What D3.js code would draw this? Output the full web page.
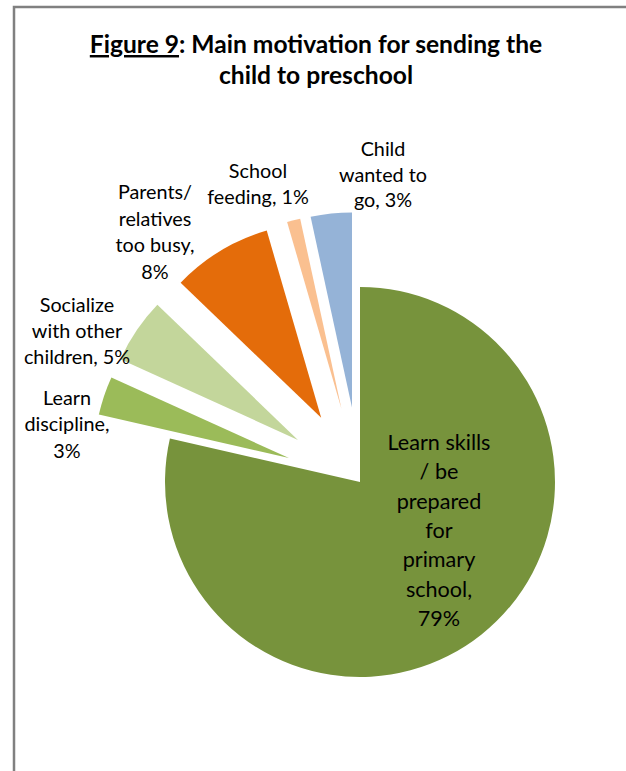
<!DOCTYPE html>
<html><head><meta charset="utf-8">
<script src="https://cdn.jsdelivr.net/npm/d3@7/dist/d3.min.js"></script>
<style>html,body{margin:0;padding:0;background:#fff;}svg{display:block;}</style>
</head><body>
<script>
// ---- data ----
const categories = ["Learn skills / be prepared for primary school","Learn discipline","Socialize with other children","Parents/ relatives too busy","School feeding","Child wanted to go"];
const values = [78.5, 3.2, 5.4, 8.3, 1.1, 3.4];
const labelLines = [
  ["Learn skills","/ be","prepared","for","primary","school,"],
  ["Learn","discipline,"],
  ["Socialize","with other","children,"],
  ["Parents/","relatives","too busy,"],
  ["School","feeding,"],
  ["Child","wanted to","go,"]
];
const colors = ["#77933C","#9BBB59","#C3D69B","#E46C0A","#FAC090","#95B3D7"];
const titleLines = ["Figure 9: Main motivation for sending the","child to preschool"];

const W=626,H=771;
const svg=d3.select("body").append("svg").attr("width",W).attr("height",H);
const FONT="Lato, 'Open Sans', sans-serif";

// frame
svg.append("path").attr("d",`M14,${H} V7 H${W}`).attr("fill","none").attr("stroke","#808080").attr("stroke-width",2.5);

// title
const tg=svg.append("g").attr("font-family",FONT).attr("font-weight","bold").attr("font-size",24.6).attr("fill","#000").attr("text-anchor","middle");
const t1=tg.append("text").attr("x",316).attr("y",53);
t1.append("tspan").attr("text-decoration","underline").text("Figure 9");
t1.append("tspan").text(titleLines[0].slice(8));
tg.append("text").attr("x",316).attr("y",84).text(titleLines[1]);

// pie
const cx=360, cy=482, R=195, explode=75;
const pie=d3.pie().sort(null).value(d=>d)(values);
const arc=d3.arc().innerRadius(0).outerRadius(R);
const g=svg.append("g").attr("transform",`translate(${cx},${cy})`);
g.selectAll("path").data(pie).join("path")
  .attr("d",arc).attr("fill",(d,i)=>colors[i])
  .attr("transform",(d,i)=>{
     if(i===0) return null;
     const a=(d.startAngle+d.endAngle)/2;
     return `translate(${explode*Math.sin(a)},${-explode*Math.cos(a)})`;
  });

// labels: [x, first baseline, line height, font size]
const labelPos=[[439,450,29.3,21.6],[67,405,26.3,19.8],[77,312,25.8,19.8],[155,199,26.7,19.8],[258,178,26,19.8],[383,156,25.5,19.8]];
const lg=svg.append("g").attr("font-family",FONT).attr("fill","#000").attr("text-anchor","middle");
pie.forEach((d,i)=>{
  const lines=labelLines[i].slice();
  const pct=Math.round(values[i])+"%";
  const last=lines.length-1;
  if(i===0||i===3||i===1) lines.push(pct); else lines[last]=lines[last]+" "+pct;
  const [x,y,lh,fs]=labelPos[i];
  const t=lg.append("text").attr("x",x).attr("y",y).attr("font-size",fs);
  lines.forEach((s,k)=>t.append("tspan").attr("x",x).attr("dy",k?lh:0).text(s));
});
</script>
</body></html>
